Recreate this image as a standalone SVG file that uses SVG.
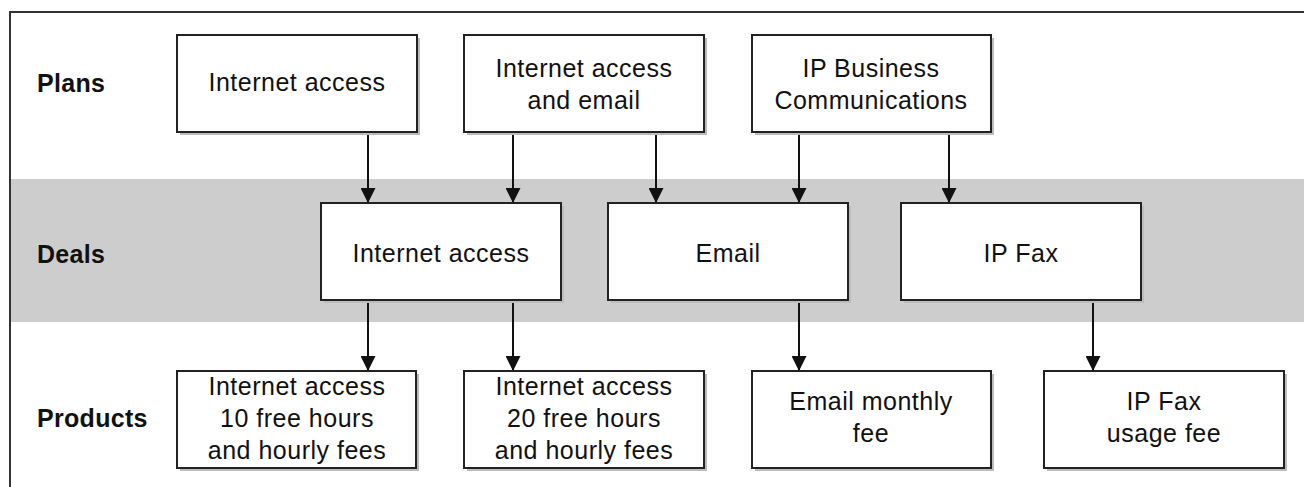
<svg xmlns="http://www.w3.org/2000/svg" width="1304" height="487" viewBox="0 0 1304 487">
<style>
text{font-family:"Liberation Sans",Arial,sans-serif;font-size:25px;letter-spacing:0.5px;fill:#111}
.lab{font-weight:bold;letter-spacing:0.3px}
.t{text-anchor:middle}
.box{fill:#fff;stroke:#222;stroke-width:2}
.sh{fill:#bcbcbc}
.c{stroke:#111;stroke-width:2;fill:none;marker-end:url(#ah)}
</style>
<defs>
<marker id="ah" markerUnits="userSpaceOnUse" markerWidth="15" markerHeight="15" refX="15" refY="7.5" orient="auto" viewBox="0 0 15 15">
<path d="M0,0 L15,7.5 L0,15 Z" fill="#111"/>
</marker>
</defs>
<rect x="0" y="0" width="1304" height="487" fill="#fff"/>
<rect x="11" y="179" width="1293" height="143" fill="#cdcdcd"/>
<path d="M10,487 V12 H1304" fill="none" stroke="#333" stroke-width="2"/>
<g id="labels">
<text class="lab" x="37" y="92">Plans</text>
<text class="lab" x="37" y="263">Deals</text>
<text class="lab" x="37" y="427">Products</text>
</g>
<g id="connectors">
<path class="c" d="M368,132 V203"/>
<path class="c" d="M513,132 V203"/>
<path class="c" d="M656,132 V203"/>
<path class="c" d="M799,132 V203"/>
<path class="c" d="M949,132 V203"/>
<path class="c" d="M368,300 V371"/>
<path class="c" d="M513,300 V371"/>
<path class="c" d="M799,300 V371"/>
<path class="c" d="M1093,300 V371"/>
</g>
<g id="plan-internet">
<rect class="sh" x="180" y="38" width="240" height="97"/>
<rect class="box" x="177" y="35" width="240" height="97"/>
<text class="t" x="297" y="91">Internet access</text>
</g>
<g id="plan-internet-email">
<rect class="sh" x="467" y="38" width="240" height="97"/>
<rect class="box" x="464" y="35" width="240" height="97"/>
<text class="t" x="584" y="77">Internet access</text>
<text class="t" x="584" y="109">and email</text>
</g>
<g id="plan-ipbc">
<rect class="sh" x="755" y="38" width="239" height="97"/>
<rect class="box" x="752" y="35" width="239" height="97"/>
<text class="t" x="871" y="77">IP Business</text>
<text class="t" x="871" y="109">Communications</text>
</g>
<g id="deal-internet">
<rect class="sh" x="324" y="206" width="240" height="97"/>
<rect class="box" x="321" y="203" width="240" height="97"/>
<text class="t" x="441" y="262">Internet access</text>
</g>
<g id="deal-email">
<rect class="sh" x="611" y="206" width="240" height="97"/>
<rect class="box" x="608" y="203" width="240" height="97"/>
<text class="t" x="728" y="262">Email</text>
</g>
<g id="deal-ipfax">
<rect class="sh" x="904" y="206" width="240" height="97"/>
<rect class="box" x="901" y="203" width="240" height="97"/>
<text class="t" x="1021" y="262">IP Fax</text>
</g>
<g id="prod-10h">
<rect class="sh" x="180" y="374" width="239" height="97"/>
<rect class="box" x="177" y="371" width="239" height="97"/>
<text class="t" x="297" y="395">Internet access</text>
<text class="t" x="297" y="427">10 free hours</text>
<text class="t" x="297" y="459">and hourly fees</text>
</g>
<g id="prod-20h">
<rect class="sh" x="467" y="374" width="240" height="97"/>
<rect class="box" x="464" y="371" width="240" height="97"/>
<text class="t" x="584" y="395">Internet access</text>
<text class="t" x="584" y="427">20 free hours</text>
<text class="t" x="584" y="459">and hourly fees</text>
</g>
<g id="prod-email">
<rect class="sh" x="755" y="374" width="239" height="97"/>
<rect class="box" x="752" y="371" width="239" height="97"/>
<text class="t" x="871" y="410">Email monthly</text>
<text class="t" x="871" y="442">fee</text>
</g>
<g id="prod-ipfax">
<rect class="sh" x="1047" y="374" width="240" height="97"/>
<rect class="box" x="1044" y="371" width="240" height="97"/>
<text class="t" x="1164" y="410">IP Fax</text>
<text class="t" x="1164" y="442">usage fee</text>
</g>
</svg>
